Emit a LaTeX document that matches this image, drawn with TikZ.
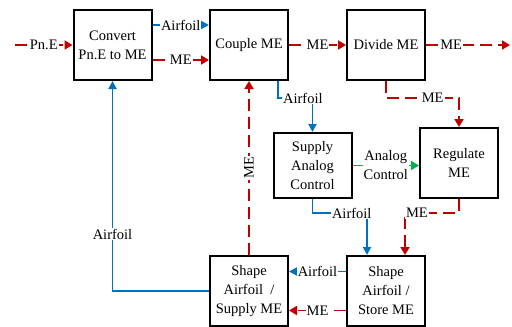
\documentclass[tikz,border=0pt]{standalone}
\usepackage{fontspec}
\setmainfont{Liberation Serif}
\usetikzlibrary{arrows.meta,positioning,calc}
\definecolor{FoilColor}{RGB}{0,112,192}
\definecolor{MEColor}{RGB}{192,0,0}
\definecolor{CtrlColor}{RGB}{0,176,80}
\tikzset{
  funcbox/.style={draw, line width=2pt, minimum width=78pt, minimum height=70pt, align=center, inner sep=2pt},
  foilflow/.style={FoilColor, line width=1.8pt, -{Triangle[length=8pt, width=8pt]}},
  meflow/.style={MEColor, line width=1.8pt, dash pattern=on 12pt off 6pt, -{Triangle[length=8pt, width=9pt]}},
  ctrlflow/.style={CtrlColor, line width=1.8pt, dash pattern=on 12pt off 6pt, -{Triangle[length=8pt, width=9pt]}},
  flowlabel/.style={fill=white, inner sep=1pt, text=black},
}

\begin{document}
\begin{tikzpicture}[x=1pt, y=-1pt, every node/.style={font=\fontsize{14.5}{19}\selectfont}]
    \useasboundingbox (0,0) rectangle (512,327);
    % function blocks
    \node[funcbox] (conv) at (112.5,45) {Convert\\Pn.E to ME};
    \node[funcbox] (cpl) at (249,45) {Couple ME};
    \node[funcbox] (div) at (386,45) {Divide ME};
    \node[funcbox, minimum height=65pt] (sac) at (312.5,165.5) {Supply\\Analog\\Control};
    \node[funcbox] (reg) at (459,163) {Regulate\\ME};
    \node[funcbox] (ssm) at (249,291) {Shape\\Airfoil~ /\\Supply ME};
    \node[funcbox] (sst) at (386,291) {Shape\\Airfoil /\\Store ME};
    \coordinate (pin) at (15,45);
    \coordinate (pout) at (510,45);
    % top row
    \draw[meflow] (pin) -- node[flowlabel]{Pn.E} (conv.west);
    \draw[foilflow] ([yshift=20pt]conv.east) -- node[flowlabel]{Airfoil} ([yshift=20pt]cpl.west);
    \draw[meflow] ([yshift=-15pt]conv.east) -- node[flowlabel]{ME} ([yshift=-15pt]cpl.west);
    \draw[meflow] (cpl.east) -- node[flowlabel]{ME} (div.west);
    \draw[meflow] (div.east) -- node[flowlabel, pos=0.3]{ME} (pout);
    % middle
    \draw[foilflow] ([xshift=29pt]cpl.south) -- ++(0,17) -| node[flowlabel, pos=0.36]{Airfoil} (sac.north);
    \draw[meflow] (div.south) -- ++(0,17) -| node[flowlabel, pos=0.32]{ME} (reg.north);
    \draw[ctrlflow] (sac.east) -- node[flowlabel, align=center]{Analog\\Control} (sac.east -| reg.west);
    \draw[foilflow] (sac.south) -- ++(0,14) -| node[flowlabel, pos=0.36]{Airfoil} ([xshift=-19pt]sst.north);
    \draw[meflow] (reg.south) -- ++(0,14) -| node[flowlabel, pos=0.39]{ME} ([xshift=19pt]sst.north);
    % bottom row
    \draw[foilflow] ([yshift=19.5pt]sst.west) -- node[flowlabel]{Airfoil} ([yshift=19.5pt]ssm.east);
    \draw[meflow] ([yshift=-19.5pt]sst.west) -- node[flowlabel]{ME} ([yshift=-19.5pt]ssm.east);
    \draw[meflow] (ssm.north) -- node[flowlabel, rotate=90]{ME} (cpl.south);
    \draw[foilflow] (ssm.west) -| node[flowlabel, pos=0.635]{Airfoil} (conv.south);
\end{tikzpicture}
\end{document}
